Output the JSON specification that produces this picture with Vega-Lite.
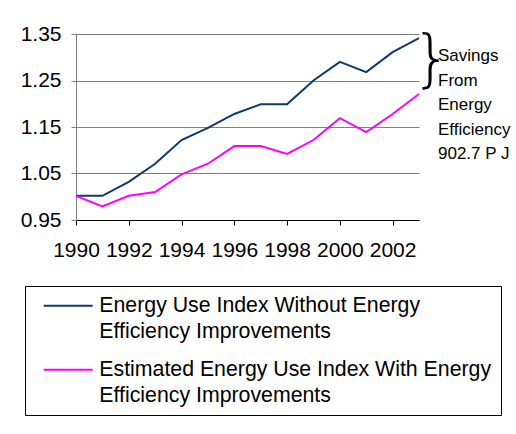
{
  "$schema": "https://vega.github.io/schema/vega-lite/v6.json",
  "width": 343,
  "height": 186,
  "autosize": "none",
  "padding": {"left": 76, "top": 34, "right": 97, "bottom": 214},
  "background": "white",
  "config": {
    "view": {"stroke": null},
    "font": "Liberation Sans",
    "text": {"font": "Liberation Sans"}
  },
  "data": {
    "values": [
      {"year": 1990, "series": "Energy Use Index Without Energy Efficiency Improvements", "value": 1.002},
      {"year": 1991, "series": "Energy Use Index Without Energy Efficiency Improvements", "value": 1.002},
      {"year": 1992, "series": "Energy Use Index Without Energy Efficiency Improvements", "value": 1.032},
      {"year": 1993, "series": "Energy Use Index Without Energy Efficiency Improvements", "value": 1.071},
      {"year": 1994, "series": "Energy Use Index Without Energy Efficiency Improvements", "value": 1.122},
      {"year": 1995, "series": "Energy Use Index Without Energy Efficiency Improvements", "value": 1.148},
      {"year": 1996, "series": "Energy Use Index Without Energy Efficiency Improvements", "value": 1.178},
      {"year": 1997, "series": "Energy Use Index Without Energy Efficiency Improvements", "value": 1.199},
      {"year": 1998, "series": "Energy Use Index Without Energy Efficiency Improvements", "value": 1.199},
      {"year": 1999, "series": "Energy Use Index Without Energy Efficiency Improvements", "value": 1.250},
      {"year": 2000, "series": "Energy Use Index Without Energy Efficiency Improvements", "value": 1.290},
      {"year": 2001, "series": "Energy Use Index Without Energy Efficiency Improvements", "value": 1.268},
      {"year": 2002, "series": "Energy Use Index Without Energy Efficiency Improvements", "value": 1.311},
      {"year": 2003, "series": "Energy Use Index Without Energy Efficiency Improvements", "value": 1.341},
      {"year": 1990, "series": "Estimated Energy Use Index With Energy Efficiency Improvements", "value": 1.002},
      {"year": 1991, "series": "Estimated Energy Use Index With Energy Efficiency Improvements", "value": 0.979},
      {"year": 1992, "series": "Estimated Energy Use Index With Energy Efficiency Improvements", "value": 1.002},
      {"year": 1993, "series": "Estimated Energy Use Index With Energy Efficiency Improvements", "value": 1.010},
      {"year": 1994, "series": "Estimated Energy Use Index With Energy Efficiency Improvements", "value": 1.048},
      {"year": 1995, "series": "Estimated Energy Use Index With Energy Efficiency Improvements", "value": 1.071},
      {"year": 1996, "series": "Estimated Energy Use Index With Energy Efficiency Improvements", "value": 1.109},
      {"year": 1997, "series": "Estimated Energy Use Index With Energy Efficiency Improvements", "value": 1.109},
      {"year": 1998, "series": "Estimated Energy Use Index With Energy Efficiency Improvements", "value": 1.092},
      {"year": 1999, "series": "Estimated Energy Use Index With Energy Efficiency Improvements", "value": 1.122},
      {"year": 2000, "series": "Estimated Energy Use Index With Energy Efficiency Improvements", "value": 1.169},
      {"year": 2001, "series": "Estimated Energy Use Index With Energy Efficiency Improvements", "value": 1.139},
      {"year": 2002, "series": "Estimated Energy Use Index With Energy Efficiency Improvements", "value": 1.178},
      {"year": 2003, "series": "Estimated Energy Use Index With Energy Efficiency Improvements", "value": 1.221}
    ]
  },
  "layer": [
    {
      "mark": {"type": "line", "strokeWidth": 2},
      "encoding": {
        "x": {
          "field": "year",
          "type": "quantitative",
          "scale": {"domain": [1990, 2003], "nice": false, "zero": false},
          "axis": {
            "title": null,
            "values": [1990, 1991, 1992, 1993, 1994, 1995, 1996, 1997, 1998, 1999, 2000, 2001, 2002, 2003],
            "labelExpr": "datum.value % 2 == 0 ? format(datum.value, 'd') : ''",
            "grid": false,
            "tickSize": 5,
            "tickColor": "#000000",
            "domainColor": "#000000",
            "labelFontSize": 21,
            "labelColor": "#000000",
            "labelPadding": 14,
            "labelFont": "Liberation Sans",
            "labelOverlap": false,
            "labelBound": false,
            "labelFlush": false
          }
        },
        "y": {
          "field": "value",
          "type": "quantitative",
          "scale": {"domain": [0.95, 1.35], "nice": false, "zero": false},
          "axis": {
            "title": null,
            "values": [0.95, 1.05, 1.15, 1.25, 1.35],
            "format": ".2f",
            "grid": true,
            "gridColor": "#808080",
            "tickSize": 5,
            "tickColor": "#808080",
            "domainColor": "#808080",
            "labelFontSize": 21,
            "labelColor": "#000000",
            "labelPadding": 10,
            "labelFont": "Liberation Sans"
          }
        },
        "color": {
          "field": "series",
          "type": "nominal",
          "scale": {
            "domain": ["Energy Use Index Without Energy Efficiency Improvements", "Estimated Energy Use Index With Energy Efficiency Improvements"],
            "range": ["#0D3A6B", "#FF00FF"]
          },
          "legend": {
            "title": null,
            "orient": "none",
            "legendX": -51,
            "legendY": 252,
            "direction": "vertical",
            "strokeColor": "#000000",
            "padding": 9,
            "symbolType": "M-0.2,0H9.8",
            "symbolSize": 96,
            "symbolStrokeWidth": 2,
            "labelFontSize": 21.3,
            "labelFont": "Liberation Sans",
            "labelColor": "#000000",
            "labelLimit": 500,
            "labelOffset": 44,
            "labelBaseline": "top",
            "rowPadding": 16,
            "labelExpr": "datum.label == 'Estimated Energy Use Index With Energy Efficiency Improvements' ? ['Estimated Energy Use Index With Energy', 'Efficiency Improvements'] : ['Energy Use Index Without Energy', 'Efficiency Improvements']",
            "encode": {
              "labels": {"update": {"dy": {"value": -11}, "lineHeight": {"value": 26}}}
            }
          }
        }
      }
    },
    {
      "data": {"values": [{"t": "}"}]},
      "mark": {"type": "text", "align": "left", "baseline": "middle", "fontSize": 62, "font": "DejaVu Sans", "fontWeight": 200, "dx": -7, "color": "#000000"},
      "encoding": {
        "x": {"datum": 2003, "type": "quantitative"},
        "y": {"datum": 1.295, "type": "quantitative"},
        "text": {"field": "t"}
      }
    },
    {
      "data": {"values": [{"t": ["Savings", "From", "Energy", "Efficiency", "902.7 P J"]}]},
      "mark": {"type": "text", "align": "left", "baseline": "middle", "fontSize": 17, "lineHeight": 24.5, "dx": 19, "color": "#000000", "font": "Liberation Sans"},
      "encoding": {
        "x": {"datum": 2003, "type": "quantitative"},
        "y": {"datum": 1.302, "type": "quantitative"},
        "text": {"field": "t"}
      }
    }
  ]
}
